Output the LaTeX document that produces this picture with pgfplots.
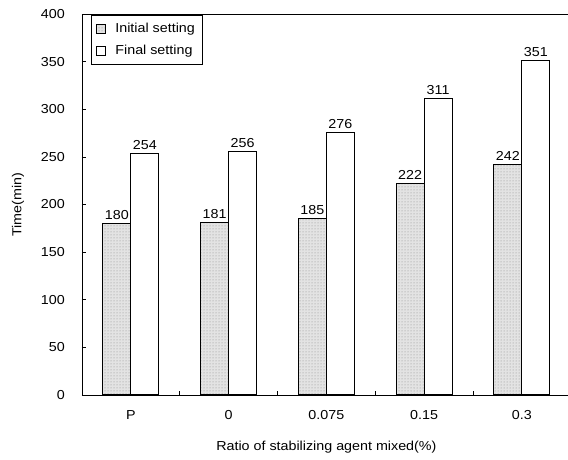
\documentclass[border=0pt]{standalone}
\usepackage{fontspec}
\setmainfont[FakeStretch=1.1]{Liberation Sans}
\usepackage{pgfplots}
\pgfplotsset{compat=1.18}
\usetikzlibrary{patterns}
\newcommand{\f}{\fontsize{13}{15}\selectfont}
\begin{document}
\begin{tikzpicture}
\begin{axis}[
  scale only axis, width=488.75pt, height=381pt,
  xmin=-0.5, xmax=4.5, ymin=0, ymax=400,
  ybar=0pt, bar width=28pt,
  xtick={0,1,2,3,4}, xticklabels={P,0,0.075,0.15,0.3},
  major x tick style={draw=none},
  minor xtick={0.5,1.5,2.5,3.5},
  ytick={0,50,...,400},
  tick align=inside, major tick length=4pt, minor tick length=4pt,
  tick pos=left,
  tick style={black, line width=0.6pt},
  axis line style={black, line width=0.8pt},
  /pgf/number format/assume math mode=true,
  tick label style={font=\f},
  yticklabel style={inner sep=0pt, xshift=-17pt},
  xticklabel style={inner sep=0pt, yshift=-15pt},
  xlabel={Ratio of stabilizing agent mixed(\%)},
  ylabel={Time(min)},
  xlabel style={font=\f, at={(rel axis cs:0.5,0)}, anchor=base, yshift=-56pt},
  ylabel style={font=\f, at={(rel axis cs:0,0.5)}, anchor=center, yshift=64pt},
  nodes near coords,
  every node near coord/.append style={font=\f, text=black},
  legend style={at={(rel axis cs:0,1)}, anchor=north west, xshift=9pt, yshift=-1pt,
    draw=black, line width=0.6pt, font=\f, row sep=7pt, inner xsep=5pt, inner ysep=6pt},
  legend cell align=left,
  legend image code/.code={\draw[#1, line width=1pt] (0pt,-4.5pt) rectangle (9pt,4.5pt); \path[draw=none,fill=none,pattern=none,postaction={}] (0pt,0pt) (16pt,0pt);},
]
\addplot[draw=black, line width=1.1pt, fill=gray!22, postaction={pattern=dots, pattern color=gray!90}]
  coordinates {(0,180) (1,181) (2,185) (3,222) (4,242)};
\addplot[draw=black, line width=1.1pt, fill=white]
  coordinates {(0,254) (1,256) (2,276) (3,311) (4,351)};
\legend{Initial setting, Final setting}
\coordinate (ll) at (rel axis cs:0,0);
\end{axis}
\pgfresetboundingbox
\path ([shift={(-82pt,-65pt)}]ll) rectangle ++(568pt,460pt);
\end{tikzpicture}
\end{document}
